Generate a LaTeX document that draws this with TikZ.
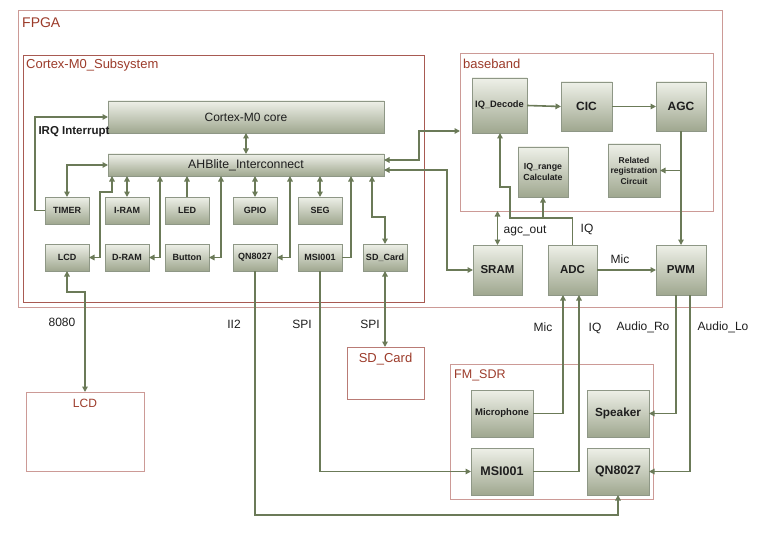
\documentclass[tikz,border=0pt]{standalone}
\usepackage{fontspec}
\setmainfont{Liberation Sans}
\usetikzlibrary{arrows.meta,calc}
\definecolor{arrc}{HTML}{6B7A58}
\definecolor{blkline}{HTML}{8E9786}
\definecolor{blktop}{HTML}{EEF0E8}
\definecolor{blkbot}{HTML}{9FA78F}
\definecolor{frmc}{HTML}{CC9A96}
\definecolor{frmd}{HTML}{A85A52}
\definecolor{ttl}{HTML}{9C3B2A}
\definecolor{txt}{HTML}{1E1E1E}
\newcommand\fsz[1]{\fontsize{#1}{#1}\selectfont}
\tikzset{
 blk/.style={draw=blkline, line width=0.6pt, top color=blktop, bottom color=blkbot, inner sep=0pt, outer sep=0pt, align=center, text=txt, font=\bfseries},
 frm/.style={draw=frmc, line width=0.8pt, inner sep=0pt, outer sep=0pt},
 ftitle/.style={text=ttl, inner sep=0pt},
 con/.style={draw=arrc, line width=1.6pt, -{Triangle[length=5.5pt,width=5.5pt]}},
 dcon/.style={draw=arrc, line width=1.6pt, {Triangle[length=5.5pt,width=5.5pt]}-{Triangle[length=5.5pt,width=5.5pt]}},
 lbl/.style={text=txt, inner sep=0pt, font=\fsz{12}},
}
\begin{document}
\begin{tikzpicture}[x=1pt,y=-1pt]
\useasboundingbox[fill=white] (0,0) rectangle (762,540);
% frames
\node[frm, minimum width=704pt, minimum height=297pt] (fpga) at (370,158.5) {};
\node[frm, draw=frmd, minimum width=401pt, minimum height=247pt] (sub) at (223.5,178.5) {};
\node[frm, minimum width=253pt, minimum height=158pt] (bb) at (586.5,132) {};
\node[frm, minimum width=203pt, minimum height=135pt] (fm) at (551.5,431.5) {};
\node[frm, draw=frmd!80, minimum width=77pt, minimum height=52pt] (sdext) at (385.5,373) {};
\node[frm, minimum width=118pt, minimum height=79pt] (lcdext) at (85,431.5) {};
\node[ftitle, anchor=west, font=\fsz{14}] (tfpga) at (22,23) {FPGA};
\node[ftitle, anchor=west, font=\fsz{13}] (tsub) at (26,65) {Cortex-M0\_Subsystem};
\node[ftitle, anchor=west, font=\fsz{13}] (tbb) at (463,64) {baseband};
\node[ftitle, anchor=west, font=\fsz{12.5}] (tfm) at (454,375) {FM\_SDR};
\node[ftitle, font=\fsz{13}] (tsd) at (385.5,359) {SD\_Card};
\node[ftitle, font=\fsz{12}] (tlcd) at (85,403) {LCD};
% subsystem blocks
\node[blk, font=\fsz{12}\mdseries, minimum width=276pt, minimum height=32pt] (core) at (246,117) {Cortex-M0 core};
\node[blk, font=\fsz{12.3}\mdseries, minimum width=276pt, minimum height=22pt] (ahb) at (246,165) {AHBlite\_Interconnect};
\begin{scope}[every node/.append style={blk, font=\fsz{9}\bfseries, minimum width=44pt, minimum height=27pt}]
\node (timer) at (67,210.5) {TIMER};
\node (iram) at (127,210.5) {I-RAM};
\node (led) at (187,210.5) {LED};
\node (gpio) at (255,210.5) {GPIO};
\node (seg) at (320,210.5) {SEG};
\node (lcd) at (67,257.5) {LCD};
\node (dram) at (127,257.5) {D-RAM};
\node (button) at (187,257.5) {Button};
\node (qn) at (255,257.5) {QN8027};
\node (msi) at (320,257.5) {MSI001};
\node (sdc) at (385,257.5) {SD\_Card};
\end{scope}
% baseband blocks
\node[blk, font=\fsz{9.3}\bfseries, minimum width=55pt, minimum height=55pt] (iqdec) at (499.5,105.5) {IQ\_Decode};
\node[blk, font=\fsz{12}\bfseries, minimum width=51pt, minimum height=49pt] (cic) at (586.5,106.5) {CIC};
\node[blk, font=\fsz{12}\bfseries, minimum width=50pt, minimum height=49pt] (agc) at (681,106.5) {AGC};
\node[blk, font=\fsz{8.8}\bfseries, minimum width=50pt, minimum height=50pt] (iqr) at (543,172) {IQ\_range\\[2pt]Calculate};
\node[blk, font=\fsz{8.5}\bfseries, minimum width=52pt, minimum height=53pt] (rel) at (634,170.5) {Related\\[2pt]registration\\[2pt]Circuit};
\node[blk, font=\fsz{11.5}\bfseries, minimum width=49pt, minimum height=50pt] (sram) at (497.5,270) {SRAM};
\node[blk, font=\fsz{11.5}\bfseries, minimum width=49pt, minimum height=50pt] (adc) at (572.5,270) {ADC};
\node[blk, font=\fsz{11.5}\bfseries, minimum width=50pt, minimum height=50pt] (pwm) at (681,270) {PWM};
% FM_SDR blocks
\node[blk, font=\fsz{9.5}\bfseries, minimum width=62pt, minimum height=47pt] (mic) at (502,413.5) {Microphone};
\node[blk, font=\fsz{11.8}\bfseries, minimum width=62pt, minimum height=47pt] (spk) at (618,413.5) {Speaker};
\node[blk, font=\fsz{12.5}\bfseries, minimum width=62pt, minimum height=47pt] (fmsi) at (502,471.5) {MSI001};
\node[blk, font=\fsz{12.3}\bfseries, minimum width=62pt, minimum height=47pt] (fqn) at (618,471.5) {QN8027};
% connectors in subsystem
\draw[dcon] (core.south) -- (ahb.north);
\draw[con] (timer.west) -- (35,210.5) |- (core.west);
\draw[dcon] (timer.north) |- (ahb.west);
\draw[dcon] (lcd.east) -| (100,192) -| (ahb.south -| 112,0);
\draw[dcon] (iram.north) -- (ahb.south -| iram.north);
\draw[dcon] (dram.east) -| (ahb.south -| 160,0);
\draw[con] (led.north) -- (ahb.south -| led.north);
\draw[dcon] (button.east) -| (ahb.south -| 221,0);
\draw[dcon] (gpio.north) -- (ahb.south -| gpio.north);
\draw[dcon] (qn.east) -| (ahb.south -| 290,0);
\draw[dcon] (seg.north) -- (ahb.south -| seg.north);
\draw[con] (msi.east) -| (ahb.south -| 351,0);
\draw[dcon] (ahb.south -| 372,0) |- (sdc.north |- 0,217) -- (sdc.north);
% to baseband / SRAM
\draw[dcon] (ahb.east |- 0,160) -| (419,131) -- (bb.west |- 0,131);
\draw[dcon] (ahb.east |- 0,170) -| (447,270) -- (sram.west);
\draw[dcon] (sram.north) -- (bb.south -| sram.north);
\draw[con] (adc.north) |- (510,218) |- (500,187) -- (iqdec.south -| 500,0);
\draw[con] (iqr.south |- 0,218) -- (iqr.south);
\draw[con] (iqdec.east) -- (cic.west);
\draw[con] (cic.east) -- (agc.west);
\draw[con] (agc.south) -- (pwm.north);
\draw[con] (agc.south |- rel.east) -- (rel.east);
\draw[con] (adc.east) -- (pwm.west);
% FM_SDR connections
\draw[con] (mic.east) -| (adc.south -| 563,0);
\draw[con] (fmsi.east) -| (adc.south -| 579,0);
\draw[con] (pwm.south -| 676,0) |- (spk.east);
\draw[con] (pwm.south -| 690,0) |- (fqn.east);
\draw[con] (msi.south) |- (fmsi.west);
\draw[con] (qn.south) |- (fqn.south |- 0,515) -- (fqn.south);
\draw[dcon] (sdc.south) -- (sdext.north -| sdc.south);
\draw[dcon] (lcd.south) |- (lcdext.north |- 0,292) -- (lcdext.north);
% labels
\node[lbl, font=\fsz{11.5}\bfseries] (lirq) at (74,132) {IRQ Interrupt};
\node[lbl] (lagc) at (525,231) {agc\_out};
\node[lbl] (liq1) at (587,229) {IQ};
\node[lbl] (lmic1) at (620,259) {Mic};
\node[lbl] (l8080) at (62,322) {8080};
\node[lbl] (lii2) at (234,324) {II2};
\node[lbl] (lspi1) at (302,324) {SPI};
\node[lbl] (lspi2) at (370,324) {SPI};
\node[lbl] (lmic2) at (543,327) {Mic};
\node[lbl] (liq2) at (595,328) {IQ};
\node[lbl] (laro) at (643,327) {Audio\_Ro};
\node[lbl] (lalo) at (723,327) {Audio\_Lo};
\end{tikzpicture}
\end{document}
